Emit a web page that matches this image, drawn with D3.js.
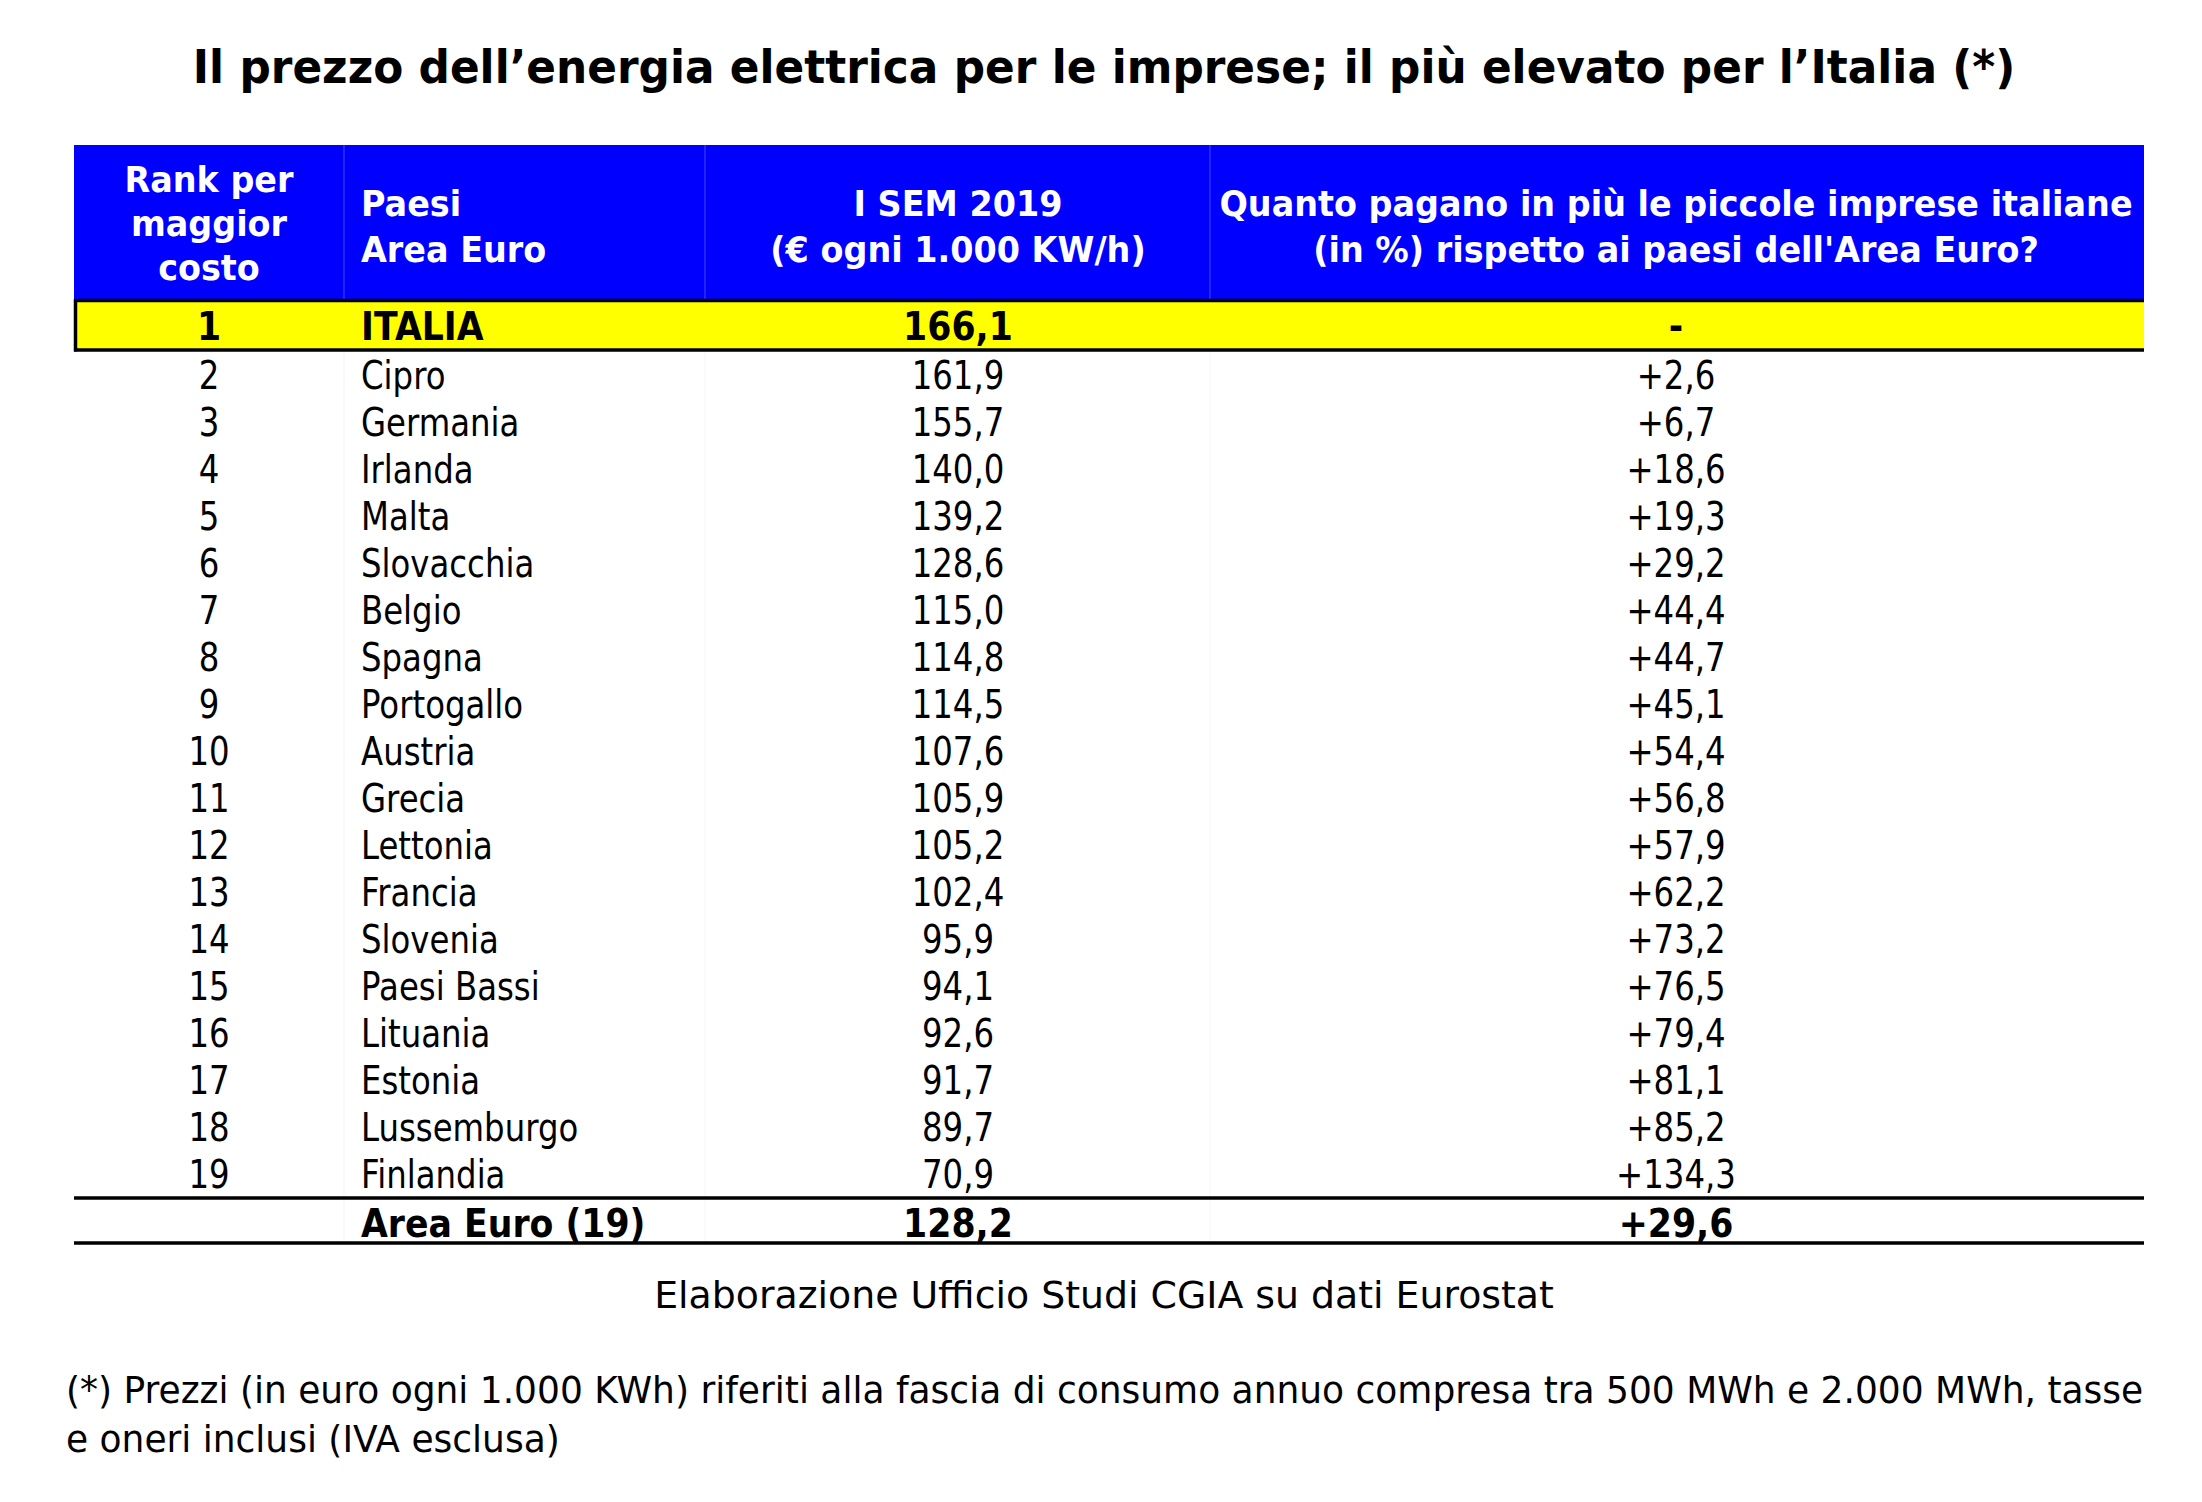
<!DOCTYPE html>
<html>
<head>
<meta charset="utf-8">
<script src="https://cdn.jsdelivr.net/npm/d3@7"></script>
<style>
  html, body { margin: 0; padding: 0; background: #fff; }
  svg { display: block; }
</style>
</head>
<body>
<svg id="chart" width="2202" height="1502"></svg>
<script>
// ---------------- DATA ----------------
const title = "Il prezzo dell\u2019energia elettrica per le imprese; il più elevato per l\u2019Italia (*)";
const headerRank = ["Rank per", "maggior", "costo"];
const headerCountry = ["Paesi", "Area Euro"];
const headerPrice = ["I SEM 2019", "(€ ogni 1.000 KW/h)"];
const headerDiff = ["Quanto pagano in più le piccole imprese italiane", "(in %) rispetto ai paesi dell'Area Euro?"];

const ranks = [1, 2, 3, 4, 5, 6, 7, 8, 9, 10, 11, 12, 13, 14, 15, 16, 17, 18, 19];
const countries = ["ITALIA", "Cipro", "Germania", "Irlanda", "Malta", "Slovacchia", "Belgio", "Spagna",
  "Portogallo", "Austria", "Grecia", "Lettonia", "Francia", "Slovenia", "Paesi Bassi", "Lituania",
  "Estonia", "Lussemburgo", "Finlandia"];
const prices = [166.1, 161.9, 155.7, 140.0, 139.2, 128.6, 115.0, 114.8, 114.5, 107.6, 105.9, 105.2,
  102.4, 95.9, 94.1, 92.6, 91.7, 89.7, 70.9];
const diffs = [null, 2.6, 6.7, 18.6, 19.3, 29.2, 44.4, 44.7, 45.1, 54.4, 56.8, 57.9, 62.2, 73.2, 76.5,
  79.4, 81.1, 85.2, 134.3];
const totalLabel = "Area Euro (19)";
const totalPrice = 128.2;
const totalDiff = 29.6;
const sourceText = "Elaborazione Ufficio Studi CGIA su dati Eurostat";
const footnote = ["(*) Prezzi (in euro ogni 1.000 KWh) riferiti alla fascia di consumo annuo compresa tra 500 MWh e 2.000 MWh, tasse",
  "e oneri inclusi (IVA esclusa)"];

// ---------------- LAYOUT ----------------
const svg = d3.select("#chart");
const tableLeft = 74, tableRight = 2144;
const headerTop = 145, headerBottom = 299;
const FONT = "'DejaVu Sans', Verdana, sans-serif";

// column text anchors
const colX = d3.scaleOrdinal()
  .domain(["rank", "country", "price", "diff"])
  .range([209, 361, 958, 1676]);
// column dividers
const dividers = [344, 705, 1210];

// rank -> text baseline
const yRow = d3.scaleLinear().domain([2, 19]).range([389, 1188]);

const fmt1 = d3.format(".1f");
const fmtNum = v => fmt1(v).replace(".", ",");
const fmtDiff = v => v == null ? "-" : "+" + fmtNum(v);

function txt(parent, x, y, s, o) {
  const t = parent.append("text")
    .attr("text-anchor", o.anchor || "start")
    .style("font-family", FONT)
    .style("font-size", o.size + "px")
    .style("font-weight", o.weight || "normal")
    .attr("fill", o.fill || "#000")
    .text(s);
  let sx = o.sx || 1;
  if (o.fit) {
    const len = t.node().getComputedTextLength();
    sx = o.fit / len;
  }
  t.attr("transform", `translate(${x},${y}) scale(${sx},1)`);
  return sx;
}

// ---------- Title ----------
txt(svg, 1104, 83, title, { size: 46, weight: "bold", anchor: "middle", fit: 1823 });

// ---------- Header ----------
svg.append("rect").attr("x", tableLeft).attr("y", headerTop)
  .attr("width", tableRight - tableLeft).attr("height", headerBottom - headerTop)
  .attr("fill", "#0000FF");
svg.selectAll("line.hdiv").data(dividers).join("line")
  .attr("class", "hdiv")
  .attr("x1", d => d).attr("x2", d => d)
  .attr("y1", headerTop).attr("y2", headerBottom)
  .attr("stroke", "#3c3cff").attr("stroke-width", 1.2);

const hs = { size: 35, weight: "bold", fill: "#fff" };
const hsx = 0.955;
headerRank.forEach((s, i) => txt(svg, colX("rank"), 192 + i * 44, s, { ...hs, anchor: "middle", sx: hsx }));
headerCountry.forEach((s, i) => txt(svg, colX("country"), 216 + i * 46, s, { ...hs, anchor: "start", sx: hsx }));
headerPrice.forEach((s, i) => txt(svg, colX("price"), 216 + i * 46, s, { ...hs, anchor: "middle", sx: hsx }));
headerDiff.forEach((s, i) => txt(svg, colX("diff"), 216 + i * 46, s, { ...hs, anchor: "middle", sx: hsx }));

// ---------- faint grid in body ----------
svg.selectAll("line.bdiv").data(dividers).join("line")
  .attr("class", "bdiv")
  .attr("x1", d => d).attr("x2", d => d)
  .attr("y1", 351).attr("y2", 1243)
  .attr("stroke", "#f5f5f5").attr("stroke-width", 1);

// ---------- Italia row ----------
const italyTop = 299, italyBottom = 350;
svg.append("rect").attr("x", tableLeft).attr("y", italyTop)
  .attr("width", tableRight - tableLeft).attr("height", italyBottom - italyTop)
  .attr("fill", "#FFFF00");
svg.append("line").attr("x1", tableLeft).attr("x2", tableRight).attr("y1", italyTop + 1.5).attr("y2", italyTop + 1.5)
  .attr("stroke", "#000").attr("stroke-width", 3.5);
svg.append("line").attr("x1", tableLeft).attr("x2", tableRight).attr("y1", italyBottom).attr("y2", italyBottom)
  .attr("stroke", "#000").attr("stroke-width", 3.5);
svg.append("line").attr("x1", tableLeft + 1.5).attr("x2", tableLeft + 1.5).attr("y1", italyTop).attr("y2", italyBottom + 1.5)
  .attr("stroke", "#000").attr("stroke-width", 3.5);

// ---------- Body rows ----------
const DS = 39, RSX = 0.83, BSX = 0.89;
const rows = ranks.map((r, i) => ({ rank: r, country: countries[i], price: prices[i], diff: diffs[i] }));
rows.forEach(d => {
  const y = d.rank === 1 ? 340 : yRow(d.rank);
  const bold = d.rank === 1;
  const o = { size: DS, weight: bold ? "bold" : "normal", sx: bold ? BSX : RSX };
  txt(svg, colX("rank"), y, String(d.rank), { ...o, anchor: "middle" });
  txt(svg, colX("country"), y, d.country, { ...o, anchor: "start" });
  txt(svg, colX("price"), y, fmtNum(d.price), { ...o, anchor: "middle" });
  txt(svg, colX("diff"), y, fmtDiff(d.diff), { ...o, anchor: "middle" });
});

// ---------- Total row ----------
svg.append("line").attr("x1", tableLeft).attr("x2", tableRight).attr("y1", 1198).attr("y2", 1198)
  .attr("stroke", "#000").attr("stroke-width", 3.5);
svg.append("line").attr("x1", tableLeft).attr("x2", tableRight).attr("y1", 1243).attr("y2", 1243)
  .attr("stroke", "#000").attr("stroke-width", 3.5);
const yt = 1237;
const ob = { size: DS, weight: "bold", sx: BSX };
txt(svg, colX("country"), yt, totalLabel, { ...ob, anchor: "start" });
txt(svg, colX("price"), yt, fmtNum(totalPrice), { ...ob, anchor: "middle" });
txt(svg, colX("diff"), yt, fmtDiff(totalDiff), { ...ob, anchor: "middle" });

// ---------- Source and footnote ----------
txt(svg, 1104, 1308, sourceText, { size: 38, anchor: "middle", fit: 900 });
const fsx = txt(svg, 66, 1403, footnote[0], { size: 38, anchor: "start", fit: 2078 });
txt(svg, 66, 1452, footnote[1], { size: 38, anchor: "start", sx: fsx });
</script>
</body>
</html>
